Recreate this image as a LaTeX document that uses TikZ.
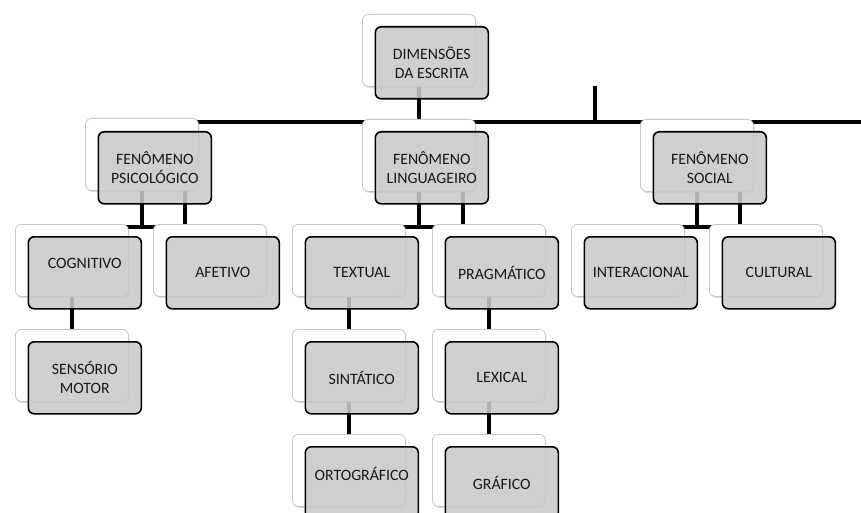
\documentclass[tikz,border=0pt]{standalone}
\usepackage{fontspec}
\setmainfont{Carlito}
\usetikzlibrary{shadows}
\pgfdeclarelayer{bg}
\pgfsetlayers{bg,main}
\tikzset{
  backbox/.style={draw=gray!45, line width=0.8pt, fill=white, rounded corners=6pt,
    minimum width=113pt, minimum height=72pt, anchor=north west, inner sep=0pt,
    drop shadow={shadow xshift=1pt, shadow yshift=-1.5pt, opacity=0.15, fill=black}},
  frontbox/.style={draw=black, line width=1.6pt, fill=black!21, fill opacity=0.88, text opacity=1,
    rounded corners=6pt, minimum width=113pt, minimum height=72pt, anchor=north west,
    inner sep=0pt, align=center, text=black!90,
    font=\fontsize{15.8}{19}\selectfont},
  conn/.style={line width=4.3pt, black}
}
\begin{document}
\begin{tikzpicture}[x=1pt,y=-1pt]
\useasboundingbox (0,0) rectangle (861,513);
\clip (0,0) rectangle (861,513);
% back boxes
\node[backbox] (wTop) at (362,14) {};
\node[backbox] (wPsi) at (85,118) {};
\node[backbox] (wLin) at (362,119) {};
\node[backbox] (wSoc) at (640,119) {};
\node[backbox] (wCog) at (15,224) {};
\node[backbox] (wAfe) at (153,224) {};
\node[backbox] (wTex) at (292,224) {};
\node[backbox] (wPra) at (432,224) {};
\node[backbox] (wInt) at (571,224) {};
\node[backbox] (wCul) at (709,224) {};
\node[backbox] (wSen) at (15,329) {};
\node[backbox] (wSin) at (292,329) {};
\node[backbox] (wLex) at (432,329) {};
\node[backbox] (wOrt) at (292,434) {};
\node[backbox] (wGra) at (432,434) {};
% front boxes
\node[frontbox] (gTop) at (374.5,26) {DIMENSÕES\\DA ESCRITA};
\node[frontbox] (gPsi) at (97.5,131) {FENÔMENO\\PSICOLÓGICO};
\node[frontbox] (gLin) at (374.5,131) {FENÔMENO\\LINGUAGEIRO};
\node[frontbox] (gSoc) at (652.5,131) {FENÔMENO\\SOCIAL};
\node[frontbox] (gCog) at (27.5,236) {\raisebox{9pt}[\height][\depth]{COGNITIVO}};
\node[frontbox] (gAfe) at (165.5,236) {AFETIVO};
\node[frontbox] (gTex) at (304.5,236) {TEXTUAL};
\node[frontbox] (gPra) at (444.5,236) {PRAGMÁTICO};
\node[frontbox] (gInt) at (583.5,236) {INTERACIONAL};
\node[frontbox] (gCul) at (721.5,236) {CULTURAL};
\node[frontbox] (gSen) at (27.5,341) {SENSÓRIO\\MOTOR};
\node[frontbox] (gSin) at (304.5,341) {SINTÁTICO};
\node[frontbox] (gLex) at (444.5,341) {LEXICAL};
\node[frontbox] (gOrt) at (304.5,446) {\raisebox{9pt}[\height][\depth]{ORTOGRÁFICO}};
\node[frontbox] (gGra) at (444.5,446) {GRÁFICO};
% connectors
\coordinate (busA) at (0,122);
\coordinate (busEnd) at (861,122);
\coordinate (tickTop) at (595,86);
\coordinate (busB) at (0,227);
\begin{pgfonlayer}{bg}
\draw[conn] (wTop.center) -- (wTop.center |- busA);
\draw[conn] (wPsi.center) |- (busEnd);
\draw[conn] (tickTop) -- (tickTop |- busA);
\draw[conn] (wLin.center) -- (wLin.center |- busA);
\draw[conn] (wSoc.center) -- (wSoc.center |- busA);
% level 1 -> 2
\draw[conn] (wPsi.center) -- (wPsi.center |- busB);
\draw[conn] ([xshift=43pt]wPsi.center) -- ([xshift=43pt]wPsi.center |- busB);
\draw[conn] (wCog.center) |- (busB -| wAfe.center) -- (wAfe.center);
\draw[conn] (wLin.center) -- (wLin.center |- busB);
\draw[conn] ([xshift=44pt]wLin.center) -- ([xshift=44pt]wLin.center |- busB);
\draw[conn] (wTex.center) |- (busB -| wPra.center) -- (wPra.center);
\draw[conn] (wSoc.center) -- (wSoc.center |- busB);
\draw[conn] ([xshift=43pt]wSoc.center) -- ([xshift=43pt]wSoc.center |- busB);
\draw[conn] (wInt.center) |- (busB -| wCul.center) -- (wCul.center);
% level 2 -> 3
\draw[conn] (wCog.center) -- (wSen.center);
\draw[conn] (wTex.center) -- (wSin.center);
\draw[conn] (wSin.center) -- (wOrt.center);
\draw[conn] (wPra.center) -- (wLex.center);
\draw[conn] (wLex.center) -- (wGra.center);
\end{pgfonlayer}
\end{tikzpicture}
\end{document}
